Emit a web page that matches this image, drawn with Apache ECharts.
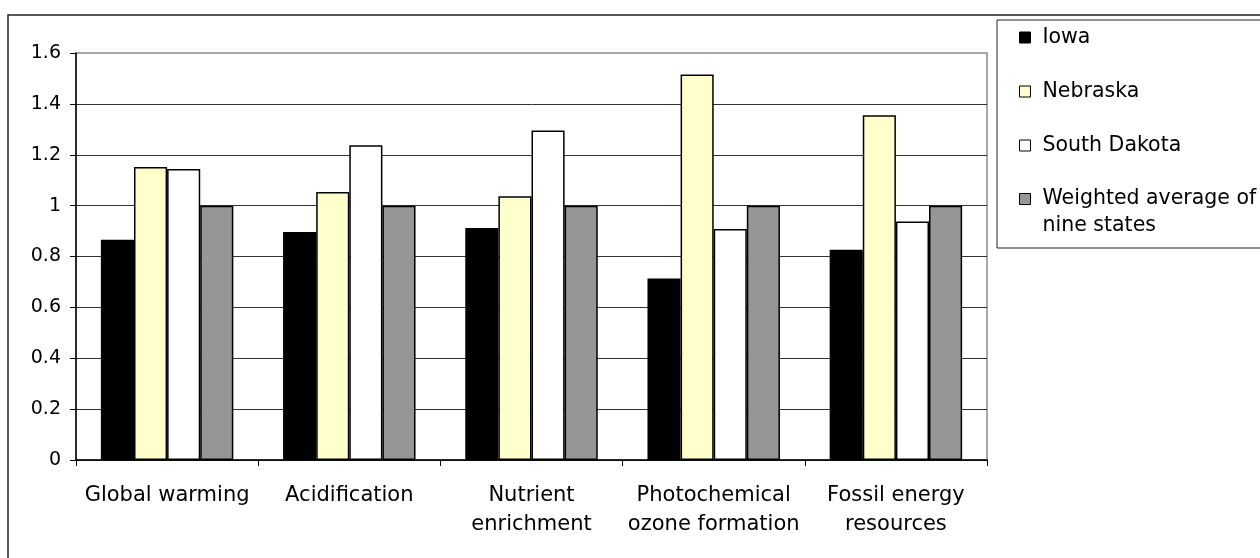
<!DOCTYPE html>
<html>
<head>
<meta charset="utf-8">
<script src="https://cdn.jsdelivr.net/npm/echarts@6/dist/echarts.min.js"></script>
<style>
  html, body { margin: 0; padding: 0; background: #fff; }
  #chart { width: 1260px; height: 558px; }
</style>
</head>
<body>
<div id="chart"></div>
<script>
const categories = [
  'Global warming',
  'Acidification',
  'Nutrient\nenrichment',
  'Photochemical\nozone formation',
  'Fossil energy\nresources',
]
const iowa = [0.866, 0.896, 0.912, 0.714, 0.827]
const nebraska = [1.152, 1.054, 1.037, 1.515, 1.355]
const southDakota = [1.144, 1.237, 1.295, 0.908, 0.938]
const weightedAverage = [1, 1, 1, 1, 1]

const seriesNames = ['Iowa', 'Nebraska', 'South Dakota', 'Weighted average of nine states']
const seriesColors = ['#000000', '#FFFFCC', '#FFFFFF', '#969696']
const seriesValues = [iowa, nebraska, southDakota, weightedAverage]

const font = 'DejaVu Sans'

// shared look of the two legend blocks (the last entry wraps onto two lines,
// so it gets its own block to keep the swatch on the first line)
const legendBase = {
  orient: 'vertical',
  left: 1019,
  padding: 0,
  itemWidth: 11,
  itemHeight: 11,
  icon: 'rect',
  selectedMode: false,
  itemStyle: { borderColor: '#000', borderWidth: 1 },
}
const legendText = { fontFamily: font, fontSize: 20.5, color: '#000', lineHeight: 27 }

const chart = echarts.init(document.getElementById('chart'), null, { renderer: 'canvas' })

chart.setOption({
  backgroundColor: '#fff',
  animation: false,
  textStyle: { fontFamily: font, color: '#000' },
  graphic: [
    {
      type: 'rect',
      z: -10,
      shape: { x: 8, y: 15, width: 1400, height: 700 },
      style: { fill: 'none', stroke: '#222', lineWidth: 1.5 },
    },
    {
      type: 'rect',
      z: -10,
      shape: { x: 997, y: 20, width: 400, height: 228 },
      style: { fill: '#fff', stroke: '#222', lineWidth: 1 },
    },
  ],
  grid: {
    left: 76,
    right: 273,
    top: 53,
    bottom: 98,
    show: true,
    borderColor: '#8c8c8c',
    borderWidth: 1.5,
    backgroundColor: '#fff',
  },
  legend: [
    {
      ...legendBase,
      top: 24,
      itemGap: 27,
      textStyle: { ...legendText, padding: [0, 0, 0, 7] },
      data: seriesNames.slice(0, 3),
    },
    {
      ...legendBase,
      top: 158.5,
      // rich text honours the top padding, which pushes the block down so the
      // swatch sits beside the first line
      textStyle: { ...legendText, padding: [27, 0, 0, 7], rich: { t: { lineHeight: 27 } } },
      formatter: () => '{t|Weighted average of}\n{t|nine states}',
      data: seriesNames.slice(3),
    },
  ],
  xAxis: {
    type: 'category',
    data: categories,
    axisLine: { lineStyle: { color: '#000', width: 1.5 } },
    axisTick: { show: true, length: 6, lineStyle: { color: '#000' } },
    axisLabel: {
      fontFamily: font,
      fontSize: 21,
      color: '#000',
      margin: 21,
      lineHeight: 29,
      interval: 0,
    },
  },
  yAxis: {
    type: 'value',
    min: 0,
    max: 1.6,
    interval: 0.2,
    axisLine: { show: true, lineStyle: { color: '#000', width: 1.5 } },
    axisTick: { show: true, length: 6, lineStyle: { color: '#000' } },
    axisLabel: { fontFamily: font, fontSize: 19, color: '#000', margin: 15 },
    splitLine: { show: true, showMaxLine: false, lineStyle: { color: '#333', width: 1 } },
  },
  series: seriesNames.map((name, i) => ({
    name,
    type: 'bar',
    data: seriesValues[i],
    barGap: '0%',
    barCategoryGap: '27.3%',
    itemStyle: { color: seriesColors[i], borderColor: '#000', borderWidth: 1.5 },
  })),
})
</script>
</body>
</html>
